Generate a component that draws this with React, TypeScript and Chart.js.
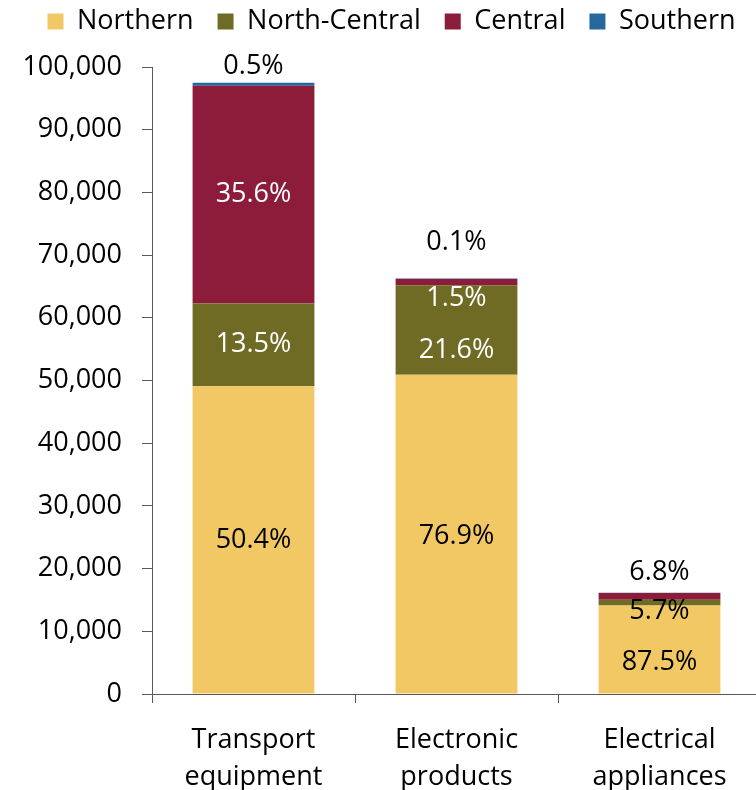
import React, { useEffect, useRef } from "react";
import { Chart, registerables } from "chart.js";

Chart.register(...registerables);

const categories: string[][] = [["Transport", "equipment"], ["Electronic", "products"], ["Electrical", "appliances"]];
const seriesNames = ["Northern", "North-Central", "Central", "Southern"];
const northern = [49100, 50900, 14100];
const northCentral = [13200, 14300, 920];
const central = [34700, 1000, 1100];
const southern = [480, 70, 40];
const northernPct = ["50.4%", "76.9%", "87.5%"];
const northCentralPct = ["13.5%", "21.6%", "5.7%"];
const centralPct = ["35.6%", "1.5%", "6.8%"];
const southernPct = ["0.5%", "0.1%", ""];
const yTicksMax = 100000;
const yTicksStep = 10000;

const colors = ["#F2C864", "#6F6B24", "#8C1C3A", "#25689D"];
// label placement: pixel shift from the segment centre, and text colour
const labelShift = [
  [0, 2, 13],
  [0, 20, 9],
  [0, 16, -24],
  [-18, -36, 0],
];
const labelColor = [
  ["#000", "#000", "#000"],
  ["#fff", "#fff", "#000"],
  ["#fff", "#fff", "#000"],
  ["#000", "#000", "#000"],
];

const FONT = '"Open Sans", "DejaVu Sans", sans-serif';

const labelPlugin = {
  id: "segLabels",
  afterDatasetsDraw(chart: any) {
    const ctx = chart.ctx;
    const all = [northernPct, northCentralPct, centralPct, southernPct];
    ctx.save();
    ctx.font = `27px ${FONT}`;
    ctx.textAlign = "center";
    ctx.textBaseline = "middle";
    chart.data.datasets.forEach((_ds: any, di: number) => {
      const meta = chart.getDatasetMeta(di);
      meta.data.forEach((bar: any, i: number) => {
        const t = all[di][i];
        if (!t) return;
        const p = bar.getProps(["x", "y", "base"], true);
        const cy = (p.y + p.base) / 2 + labelShift[di][i];
        ctx.fillStyle = labelColor[di][i];
        ctx.fillText(t, p.x, cy);
      });
    });
    ctx.restore();
  },
};

// extra space between the legend row and the plot area
const legendGap = {
  id: "legendGap",
  beforeInit(chart: any) {
    const lg = chart.legend;
    if (!lg) return;
    const orig = lg.fit;
    lg.fit = function () {
      orig.call(this);
      this.height += 22;
    };
  },
};

export default function App() {
  const ref = useRef<HTMLCanvasElement>(null);
  useEffect(() => {
    const values = [northern, northCentral, central, southern];
    Chart.defaults.font.family = FONT;
    Chart.defaults.color = "#000";
    const chart = new Chart(ref.current as HTMLCanvasElement, {
      type: "bar",
      data: {
        labels: categories,
        datasets: seriesNames.map((n, i) => ({
          label: n,
          data: values[i],
          backgroundColor: colors[i],
          borderWidth: 0,
          categoryPercentage: 1,
          barPercentage: 0.6,
        })),
      },
      options: {
        animation: false,
        responsive: false,
        events: [],
        layout: { padding: { left: 22, top: -16, right: 0, bottom: 0 } },
        plugins: {
          legend: {
            position: "top",
            labels: {
              font: { size: 27, family: FONT },
              color: "#000",
              boxWidth: 16,
              boxHeight: 16,
              padding: 24,
            },
          },
          tooltip: { enabled: false },
        },
        scales: {
          x: {
            stacked: true,
            grid: { drawOnChartArea: false, offset: true, tickLength: 9, color: "#595959" },
            border: { display: true, color: "#595959", width: 1 },
            ticks: { font: { size: 27, family: FONT, lineHeight: 1.37 }, color: "#000", padding: 19, maxRotation: 0 },
            afterFit: (s: any) => { s.height = 136; },
          },
          y: {
            stacked: true,
            min: 0,
            max: yTicksMax,
            ticks: {
              stepSize: yTicksStep,
              font: { size: 27, family: FONT },
              color: "#000",
              padding: 20,
              callback: (v: any) => Number(v).toLocaleString("en-US"),
            },
            grid: { drawOnChartArea: false, tickLength: 10, color: "#595959" },
            border: { display: true, color: "#595959", width: 1 },
            afterFit: (s: any) => { s.width = 130; },
          },
        },
      },
      plugins: [labelPlugin, legendGap],
    });
    return () => chart.destroy();
  }, []);
  return (
    <div style={{ position: "fixed", left: 0, top: 0, width: 756, height: 790, overflow: "hidden", background: "#fff" }}>
      <canvas ref={ref} width={761} height={830} style={{ display: "block" }} />
    </div>
  );
}
